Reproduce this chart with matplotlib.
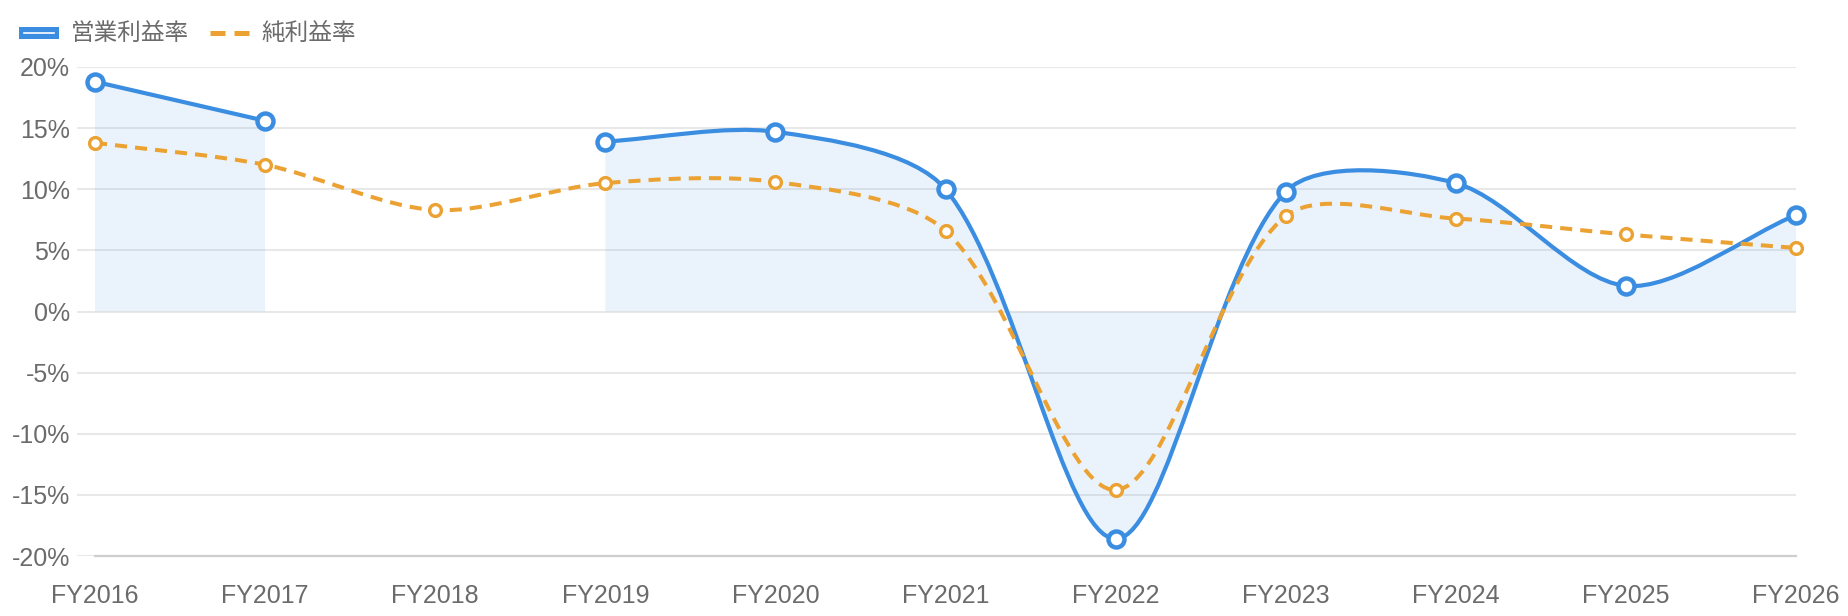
import numpy as np
import matplotlib
matplotlib.use('Agg')
import matplotlib.pyplot as plt
from matplotlib.path import Path
from matplotlib.patches import PathPatch, Rectangle
from matplotlib.lines import Line2D

plt.rcParams['font.family'] = ['Liberation Sans', 'Noto Sans CJK JP', 'DejaVu Sans']

years = ['FY2016', 'FY2017', 'FY2018', 'FY2019', 'FY2020', 'FY2021',
         'FY2022', 'FY2023', 'FY2024', 'FY2025', 'FY2026']
op_margin = [18.8, 15.6, np.nan, 13.9, 14.7, 10.0, -18.6, 9.8, 10.5, 2.1, 7.9]
net_margin = [13.8, 12.0, 8.3, 10.5, 10.6, 6.6, -14.6, 7.8, 7.6, 6.3, 5.2]
y_ticks = [-20, -15, -10, -5, 0, 5, 10, 15, 20]
series_names = ['営業利益率', '純利益率']

blue = '#3a8de0'
orange = '#eba232'
text_color = '#6b6b6b'

W, H = 1848, 616
fig = plt.figure(figsize=(W / 100, H / 100), dpi=100)
left_px, right_px, top_px, bottom_px = 77, 1796, 67, 556
x0_px = 95
ax = fig.add_axes([left_px / W, 1 - bottom_px / H,
                   (right_px - left_px) / W, (bottom_px - top_px) / H])
step = (right_px - x0_px) / (len(years) - 1)
ax.set_xlim(-(x0_px - left_px) / step, len(years) - 1)
ax.set_ylim(y_ticks[0], y_ticks[-1])


def smooth_path(xs, ys, tension=0.3):
    # spline with tension, control points computed in pixel space
    pts = ax.transData.transform(np.column_stack([xs, ys]))
    n = len(pts)
    cp_in, cp_out = [], []
    for i in range(n):
        cur = pts[i]
        prev = pts[i - 1] if i > 0 else cur
        nxt = pts[i + 1] if i < n - 1 else cur
        d01 = np.hypot(*(cur - prev))
        d12 = np.hypot(*(nxt - cur))
        s01 = d01 / (d01 + d12)
        s12 = d12 / (d01 + d12)
        v = nxt - prev
        cp_in.append(cur - tension * s01 * v)
        cp_out.append(cur + tension * s12 * v)
    verts = [pts[0]]
    codes = [Path.MOVETO]
    for i in range(1, n):
        verts += [cp_out[i - 1], cp_in[i], pts[i]]
        codes += [Path.CURVE4] * 3
    verts = ax.transData.inverted().transform(np.array(verts))
    return list(verts), codes


def segments(vals):
    segs, cur = [], []
    for i, v in enumerate(vals):
        if np.isnan(v):
            if cur:
                segs.append(cur)
            cur = []
        else:
            cur.append(i)
    if cur:
        segs.append(cur)
    return segs


# gridlines
for t in y_ticks:
    ax.axhline(t, color='#e8e8e8', lw=1.5, zorder=0)
ax.plot([0, len(years) - 1], [y_ticks[0], y_ticks[0]], color='#cfcfcf', lw=1.6,
        zorder=1, clip_on=False)

# operating margin: area + smooth line
for seg in segments(op_margin):
    xs = np.array(seg, dtype=float)
    ys = np.array([op_margin[i] for i in seg])
    verts, codes = smooth_path(xs, ys)
    area_verts = verts + [(xs[-1], 0), (xs[0], 0), verts[0]]
    area_codes = codes + [Path.LINETO, Path.LINETO, Path.CLOSEPOLY]
    ax.add_patch(PathPatch(Path(area_verts, area_codes), facecolor=blue,
                           alpha=0.1, edgecolor='none', zorder=1))
    ax.add_patch(PathPatch(Path(verts, codes), facecolor='none', edgecolor=blue,
                           lw=3.0, zorder=3, capstyle='round'))

# net margin: dashed smooth line
xs = np.arange(len(years), dtype=float)
verts, codes = smooth_path(xs, np.array(net_margin))
ax.add_patch(PathPatch(Path(verts, codes), facecolor='none', edgecolor=orange,
                       lw=2.9, linestyle=(0, (3.0, 2.0)), zorder=4))

ax.plot(range(len(years)), op_margin, 'o', ms=11.5, mfc='white', mec=blue, mew=3.2,
        zorder=5, clip_on=False)
ax.plot(range(len(years)), net_margin, 'o', ms=8.5, mfc='white', mec=orange, mew=2.4,
        zorder=6, clip_on=False)

ax.set_xticks(range(len(years)))
ax.set_xticklabels(years)
ax.set_yticks(y_ticks)
ax.set_yticklabels([f'{t}%' for t in y_ticks])
ax.tick_params(axis='both', length=0, labelsize=18, labelcolor=text_color)
ax.tick_params(axis='x', pad=20)
ax.tick_params(axis='y', pad=5)
for s in ax.spines.values():
    s.set_visible(False)
ax.set_facecolor('none')


# legend drawn by hand in pixel coords
def fx(px):
    return px / W


def fy(py):
    return 1 - py / H


leg_y = 33
fig.patches.append(Rectangle((fx(19), fy(leg_y + 5.5)), fx(40), 11 / H,
                             facecolor=blue, edgecolor='none',
                             transform=fig.transFigure, figure=fig))
fig.lines.append(Line2D([fx(24), fx(54)], [fy(leg_y), fy(leg_y)], color='white',
                        lw=1.2, transform=fig.transFigure, figure=fig))
fig.text(fx(71), fy(leg_y), series_names[0], fontsize=17, color=text_color,
         va='center', ha='left', family=['Noto Sans CJK JP'])
fig.lines.append(Line2D([fx(210), fx(249)], [fy(leg_y), fy(leg_y)], color=orange,
                        lw=3.6, linestyle=(0, (3.0, 1.8)),
                        transform=fig.transFigure, figure=fig))
fig.text(fx(261), fy(leg_y), series_names[1], fontsize=17, color=text_color,
         va='center', ha='left', family=['Noto Sans CJK JP'])

fig.savefig('out.png', dpi=100, facecolor='white')
